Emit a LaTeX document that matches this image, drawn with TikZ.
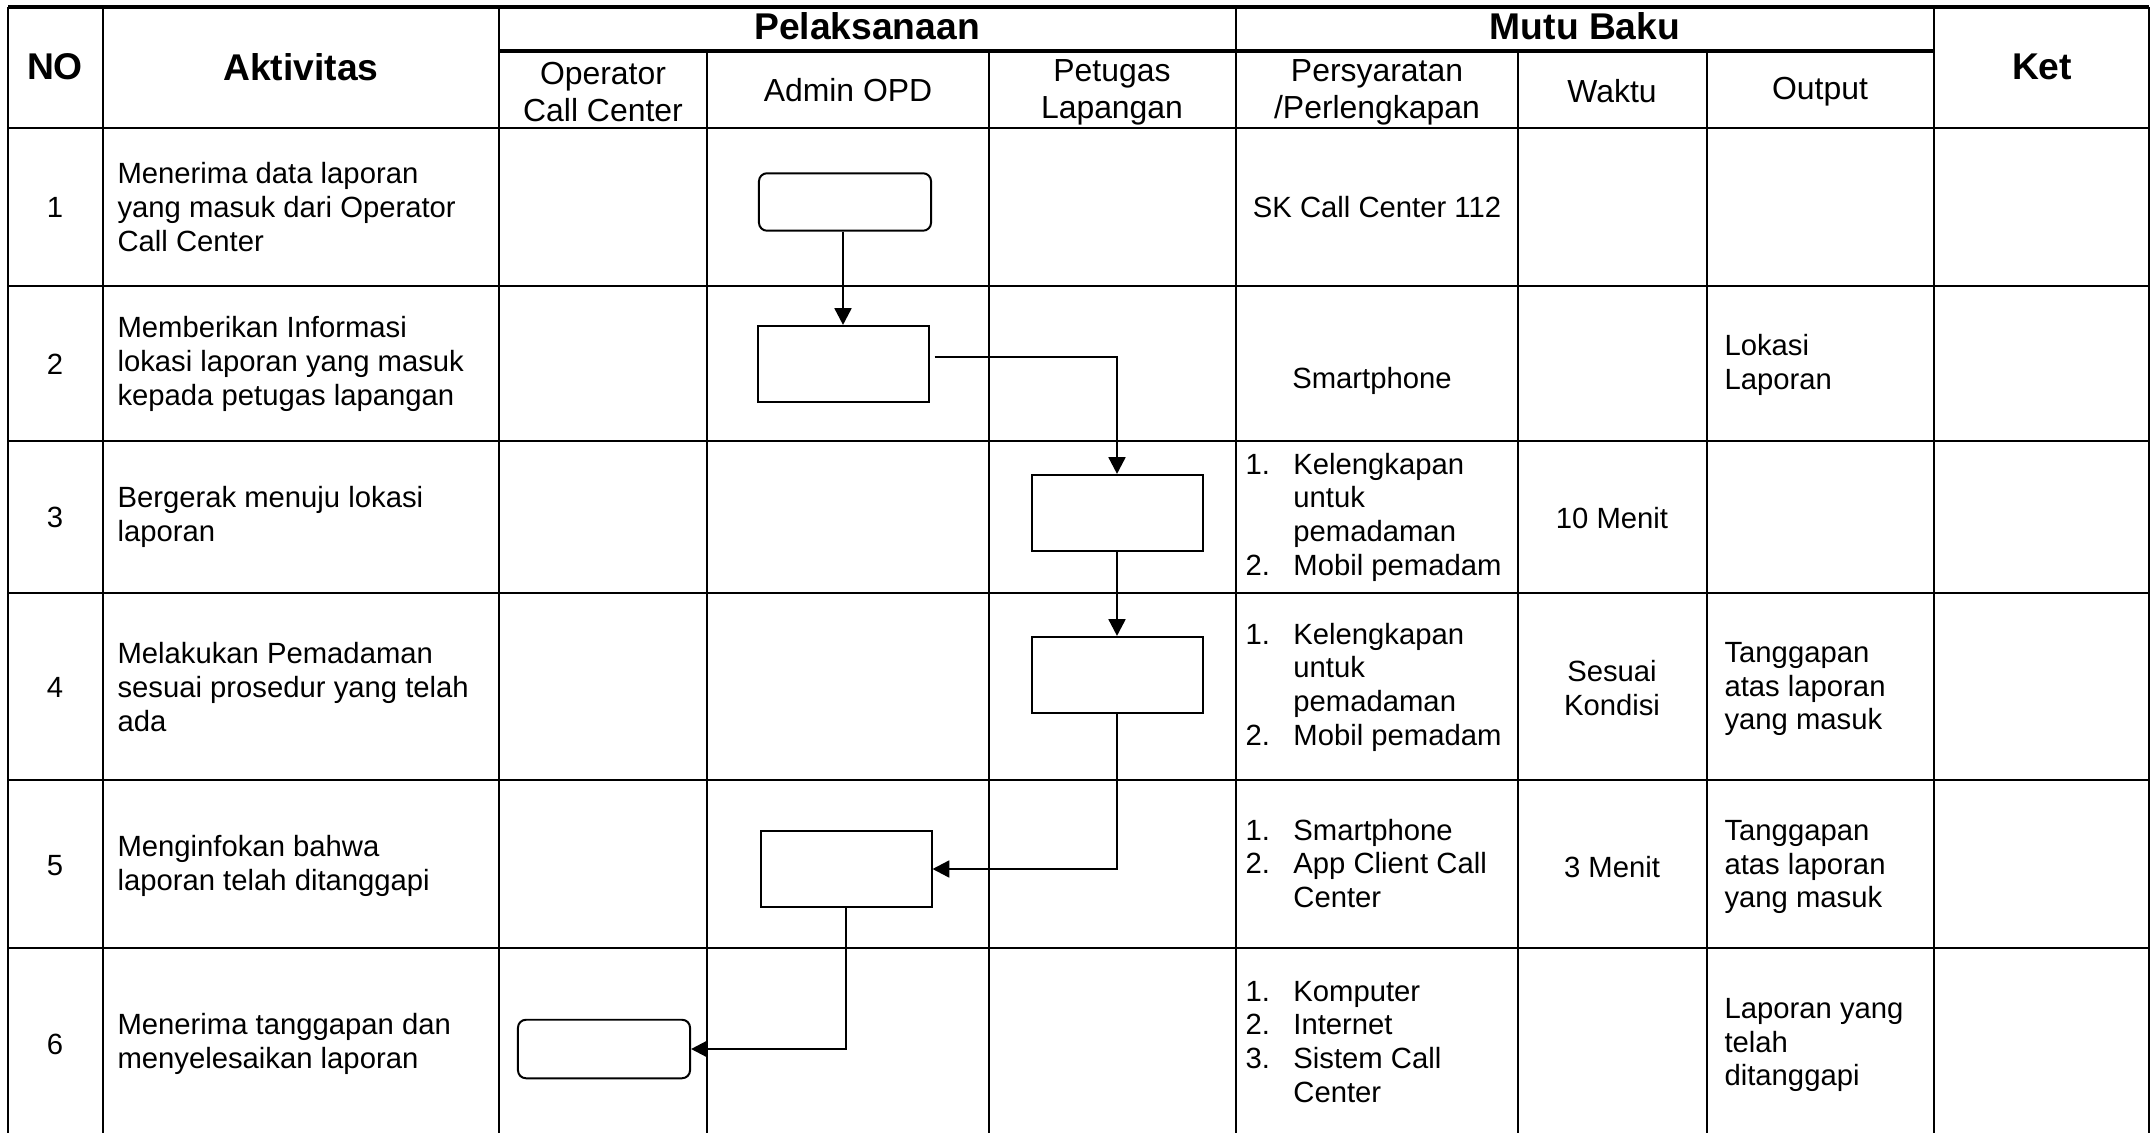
\documentclass[tikz,border=0pt]{standalone}
\usepackage{fontspec}
\setmainfont{Liberation Sans}
\usetikzlibrary{arrows.meta,calc}

\tikzset{
  grid/.style={line width=0.95pt},
  thickrule/.style={line width=1.25pt},
  body/.style={font=\fontsize{11}{12.65}\selectfont, inner sep=0pt},
  lefttext/.style={body, align=left, anchor=west},
  midtext/.style={body, align=center},
  subhead/.style={font=\fontsize{12}{13.8}\selectfont, inner sep=0pt, align=center},
  mainhead/.style={font=\bfseries\fontsize{14}{16}\selectfont, inner sep=0pt, align=center},
  procbox/.style={draw, line width=0.75pt, minimum width=64.3pt, minimum height=28.6pt, inner sep=0pt},
  termbox/.style={draw, line width=0.75pt, rounded corners=3pt, minimum width=64.7pt, minimum height=21.6pt, inner sep=0pt},
  flow/.style={line width=0.95pt, -{Triangle[length=6.3pt,width=6.3pt]}}
}

\newcommand{\numlist}[1]{\begin{tabular}{@{}p{18pt}@{}l@{}}#1\end{tabular}}

\begin{document}
\begin{tikzpicture}[x=0.376pt,y=-0.376pt]
\useasboundingbox (0,0) rectangle (2154,1133);

% ---- table rules ----
\draw[thickrule] (8,7) -- (2149,7);
\draw[thickrule] (499,51) -- (1934,51);
\foreach \yy in {128,286,441,593,780,948}
  \draw[grid] (8,\yy) -- (2149,\yy);
\foreach \xx in {8,103,499,1236,1934,2149}
  \draw[grid] (\xx,7) -- (\xx,1133);
\foreach \xx in {707,989,1518,1707}
  \draw[grid] (\xx,51) -- (\xx,1133);

% ---- header ----
\node[mainhead] (hNo) at (55,67) {NO};
\node[mainhead] (hAkt) at (301,67) {Aktivitas};
\node[mainhead] (hPel) at (867,26) {Pelaksanaan};
\node[mainhead] (hMutu) at (1585,26) {Mutu Baku};
\node[mainhead] (hKet) at (2042,67) {Ket};
\node[subhead] (hOp) at (603,92) {Operator\\Call Center};
\node[subhead] (hAdm) at (848,90) {Admin OPD};
\node[subhead] (hPet) at (1112,92) {Petugas\\Lapangan};
\node[subhead] (hPer) at (1377,92) {Persyaratan\\/Perlengkapan};
\node[subhead] (hWak) at (1612,91) {Waktu};
\node[subhead] (hOut) at (1820,92) {Output};

% ---- row numbers ----
\node[midtext] (n1) at (55,207) {1};
\node[midtext] (n2) at (55,364) {2};
\node[midtext] (n3) at (55,517) {3};
\node[midtext] (n4) at (55,687) {4};
\node[midtext] (n5) at (55,866) {5};
\node[midtext] (n6) at (55,1044) {6};

% ---- activities ----
\node[lefttext] (a1) at (117,207) {Menerima data laporan\\yang masuk dari Operator\\Call Center};
\node[lefttext] (a2) at (117,364) {Memberikan Informasi\\lokasi laporan yang masuk\\kepada petugas lapangan};
\node[lefttext] (a3) at (117,517) {Bergerak menuju lokasi\\laporan};
\node[lefttext] (a4) at (117,687) {Melakukan Pemadaman\\sesuai prosedur yang telah\\ada};
\node[lefttext] (a5) at (117,866) {Menginfokan bahwa\\laporan telah ditanggapi};
\node[lefttext] (a6) at (117,1044) {Menerima tanggapan dan\\menyelesaikan laporan};

% ---- requirements ----
\node[midtext] (p1) at (1377,207) {SK Call Center 112};
\node[midtext] (p2) at (1372,381) {Smartphone};
\node[lefttext] (p3) at (1245,518) {\numlist{1. & Kelengkapan\\ & untuk\\ & pemadaman\\2. & Mobil pemadam}};
\node[lefttext] (p4) at (1245,688) {\numlist{1. & Kelengkapan\\ & untuk\\ & pemadaman\\2. & Mobil pemadam}};
\node[lefttext] (p5) at (1245,867) {\numlist{1. & Smartphone\\2. & App Client Call\\ & Center}};
\node[lefttext] (p6) at (1245,1045) {\numlist{1. & Komputer\\2. & Internet\\3. & Sistem Call\\ & Center}};

% ---- time ----
\node[midtext] (w3) at (1612,518) {10 Menit};
\node[midtext] (w4) at (1612,688) {Sesuai\\Kondisi};
\node[midtext] (w5) at (1612,867) {3 Menit};

% ---- output ----
\node[lefttext] (o2) at (1724,365) {Lokasi\\Laporan};
\node[lefttext] (o4) at (1724,689) {Tanggapan\\atas laporan\\yang masuk};
\node[lefttext] (o5) at (1724,867) {Tanggapan\\atas laporan\\yang masuk};
\node[lefttext] (o6) at (1724,1045) {Laporan yang\\telah\\ditanggapi};

% ---- flow symbols ----
\node[termbox] (b1) at (845,202) {};
\node[procbox] (b2) at (843,364) {};
\node[procbox] (b3) at (1117,513) {};
\node[procbox] (b4) at (1117,675) {};
\node[procbox] (b5) at (846,869) {};
\node[termbox, minimum height=22pt] (b6) at (604,1049) {};

% ---- connectors ----
\draw[flow] (b1.south -| b2.north) -- (b2.north);
\draw[flow] ($(b2.east)+(5,-7)$) -| (b3.north);
\draw[flow] (b3.south) -- (b4.north);
\draw[flow] (b4.south) |- (b5.east);
\draw[flow] (b5.south) |- (b6.east);
\end{tikzpicture}
\end{document}
